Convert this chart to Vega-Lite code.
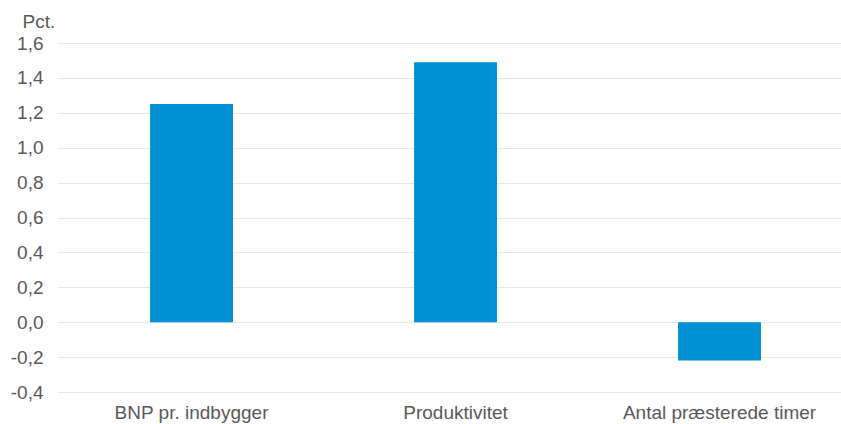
{
  "$schema": "https://vega.github.io/schema/vega-lite/v6.json",
  "autosize": "none",
  "width": 783,
  "height": 349,
  "padding": {"left": 58, "top": 43, "right": 0, "bottom": 32},
  "background": "white",
  "config": {
    "view": {"stroke": null},
    "font": "Liberation Sans"
  },
  "data": {
    "values": [
      {"kategori": "BNP pr. indbygger", "pct": 1.25},
      {"kategori": "Produktivitet", "pct": 1.49},
      {"kategori": "Antal præsterede timer", "pct": -0.22}
    ]
  },
  "mark": {"type": "bar", "color": "#0091D5"},
  "encoding": {
    "x": {
      "field": "kategori",
      "type": "nominal",
      "sort": null,
      "scale": {"paddingInner": 0.686, "paddingOuter": 0.326, "align": 0.535},
      "axis": {
        "title": null,
        "labelAngle": 0,
        "labelFontSize": 19,
        "labelColor": "#595959",
        "labelLimit": 0,
        "ticks": false,
        "domain": false,
        "labelPadding": 11
      }
    },
    "y": {
      "field": "pct",
      "type": "quantitative",
      "scale": {"domain": [-0.4, 1.6], "nice": false},
      "axis": {
        "values": [-0.4, -0.2, 0, 0.2, 0.4, 0.6, 0.8, 1.0, 1.2, 1.4, 1.6],
        "labelExpr": "replace(replace(format(datum.value, '.1f'), '.', ','), '\u2212', '-')",
        "labelFontSize": 19,
        "labelColor": "#595959",
        "labelPadding": 15,
        "ticks": false,
        "domain": false,
        "grid": true,
        "gridColor": "#E6E6E6",
        "gridWidth": 1,
        "title": "Pct.",
        "titleAngle": 0,
        "titleAlign": "left",
        "titleBaseline": "middle",
        "titleX": -36,
        "titleY": -22,
        "titleFontSize": 19,
        "titleFontWeight": "normal",
        "titleColor": "#595959"
      }
    }
  }
}
